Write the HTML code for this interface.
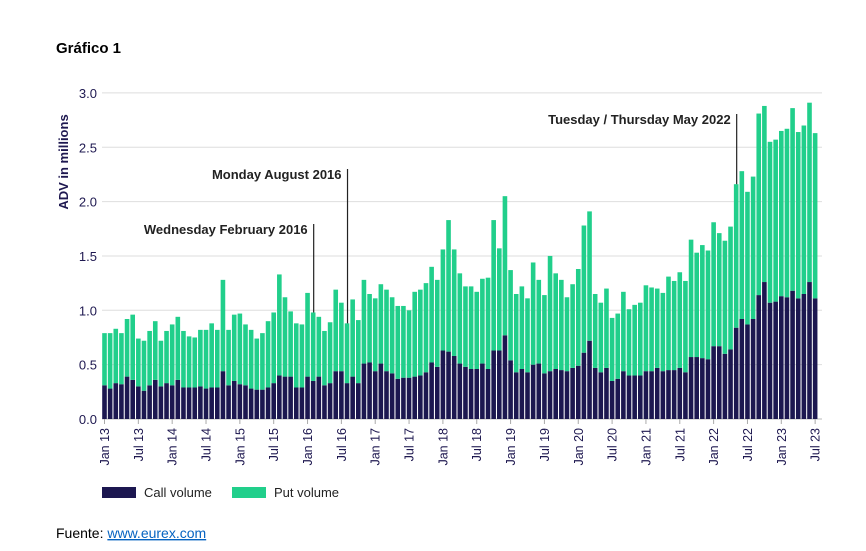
<!DOCTYPE html>
<html><head><meta charset="utf-8"><style>
body{margin:0;background:#fff;font-family:"Liberation Sans",sans-serif}
</style></head><body>
<svg width="866" height="546" xmlns="http://www.w3.org/2000/svg" id="svg" font-family="Liberation Sans, sans-serif">
<text x="56" y="53" font-size="15" font-weight="bold" fill="#000">Gráfico 1</text>
<text transform="translate(68,162) rotate(-90)" text-anchor="middle" font-size="13" font-weight="bold" fill="#1e1850">ADV in millions</text>
<g id="grid"></g><g id="bars"></g><g id="xlab"></g><g id="ann"></g>
<g>
<rect x="102" y="487" width="34" height="11" fill="#1c1750"/>
<text x="144" y="497" font-size="13" fill="#222">Call volume</text>
<rect x="232" y="487" width="34" height="11" fill="#21cf8b"/>
<text x="274" y="497" font-size="13" fill="#222">Put volume</text>
</g>
<text x="56" y="538" font-size="14" fill="#000">Fuente: <tspan fill="#0563c1" text-decoration="underline">www.eurex.com</tspan></text>
</svg>
<script>
const totals=[0.79,0.79,0.83,0.79,0.92,0.96,0.74,0.72,0.81,0.90,0.72,0.81,
0.87,0.94,0.81,0.76,0.75,0.82,0.82,0.88,0.82,1.28,0.82,0.96,
0.97,0.87,0.82,0.74,0.79,0.90,0.98,1.33,1.12,0.99,0.88,0.87,
1.16,0.98,0.94,0.81,0.89,1.19,1.07,0.88,1.10,0.91,1.28,1.15,
1.11,1.24,1.19,1.12,1.04,1.04,1.00,1.17,1.19,1.25,1.40,1.28,
1.56,1.83,1.56,1.34,1.22,1.22,1.17,1.29,1.30,1.83,1.57,2.05,
1.37,1.15,1.22,1.11,1.44,1.28,1.14,1.50,1.34,1.28,1.12,1.24,
1.38,1.78,1.91,1.15,1.07,1.20,0.93,0.97,1.17,1.01,1.05,1.07,
1.23,1.21,1.20,1.16,1.31,1.27,1.35,1.27,1.65,1.53,1.60,1.55,
1.81,1.71,1.64,1.77,2.16,2.28,2.09,2.23,2.81,2.88,2.55,2.57,
2.65,2.67,2.86,2.64,2.70,2.91,2.63];
const calls=[0.31,0.28,0.33,0.32,0.39,0.36,0.30,0.26,0.31,0.36,0.30,0.33,
0.31,0.36,0.29,0.29,0.29,0.30,0.28,0.29,0.29,0.44,0.31,0.35,
0.32,0.31,0.28,0.27,0.27,0.29,0.33,0.40,0.39,0.39,0.29,0.29,
0.39,0.35,0.39,0.31,0.33,0.44,0.44,0.33,0.39,0.33,0.51,0.52,
0.44,0.51,0.44,0.42,0.37,0.38,0.38,0.39,0.40,0.43,0.52,0.48,
0.63,0.62,0.58,0.51,0.48,0.46,0.46,0.51,0.46,0.63,0.63,0.77,
0.54,0.43,0.46,0.43,0.50,0.51,0.42,0.44,0.46,0.45,0.44,0.47,
0.49,0.61,0.72,0.47,0.43,0.47,0.35,0.37,0.44,0.40,0.40,0.40,
0.44,0.44,0.47,0.44,0.45,0.45,0.47,0.43,0.57,0.57,0.56,0.55,
0.67,0.67,0.60,0.64,0.84,0.92,0.87,0.92,1.14,1.26,1.07,1.08,
1.13,1.12,1.18,1.11,1.15,1.26,1.11];
const yTicks=[0,0.5,1,1.5,2,2.5,3];
const yTickLabels=["0.0","0.5","1.0","1.5","2.0","2.5","3.0"];
const xLabels=["Jan 13","Jul 13","Jan 14","Jul 14","Jan 15","Jul 15","Jan 16","Jul 16","Jan 17","Jul 17","Jan 18","Jul 18","Jan 19","Jul 19","Jan 20","Jul 20","Jan 21","Jul 21","Jan 22","Jul 22","Jan 23","Jul 23"];
const annotations=[{label:"Wednesday February 2016",idx:37,top:224},{label:"Monday August 2016",idx:43,top:169},{label:"Tuesday / Thursday May 2022",idx:112,top:114}];
const NS="http://www.w3.org/2000/svg";
const x=i=>104.5+i*5.64, y=v=>419-v*108.7;
function mk(t,a,p){const e=document.createElementNS(NS,t);for(const k in a)e.setAttribute(k,a[k]);p.appendChild(e);return e;}
const G=document.getElementById('grid'),B=document.getElementById('bars'),X=document.getElementById('xlab'),A=document.getElementById('ann');
yTicks.forEach((v,k)=>{const l=mk('line',{x1:102,x2:822,y1:y(v),y2:y(v),stroke:v===0?'#bbb':'#dedede','stroke-width':1},G);


const t=mk('text',{x:97,y:y(v)+5,'text-anchor':'end','font-size':13,fill:'#1e1850'},G);t.textContent=yTickLabels[k];

});
totals.forEach((tv,i)=>{const c=calls[i];
const r1=mk('rect',{x:x(i)-2.3,y:y(c),width:4.6,height:y(0)-y(c),fill:'#1c1750'},B);


const r2=mk('rect',{x:x(i)-2.3,y:y(tv),width:4.6,height:y(c)-y(tv),fill:'#21cf8b'},B);

});
xLabels.forEach((s,k)=>{const xi=x(k*6);
const tk=mk('line',{x1:xi,x2:xi,y1:419,y2:424,stroke:'#aaa'},X);


const t=mk('text',{transform:`translate(${xi+4.5},428) rotate(-90)`,'text-anchor':'end','font-size':12.5,fill:'#1e1850'},X);t.textContent=s;

});
annotations.forEach(a=>{const xi=x(a.idx)+0.5;
const l=mk('line',{x1:xi,x2:xi,y1:a.top,y2:y(totals[a.idx]),stroke:'#222','stroke-width':1.2},A);


const t=mk('text',{x:xi-6,y:a.top+10,'text-anchor':'end','font-size':13,'font-weight':'bold',fill:'#222'},A);t.textContent=a.label;

});
</script>
</body></html>
